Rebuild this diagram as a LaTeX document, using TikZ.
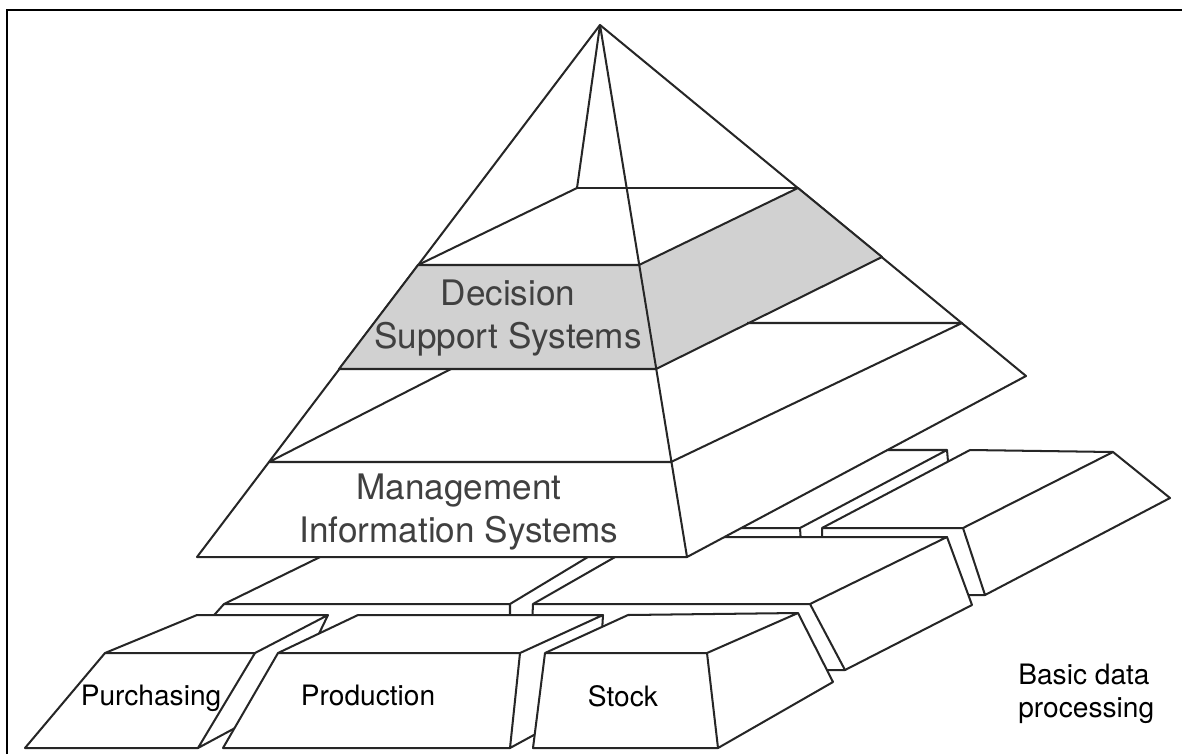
\documentclass[tikz,border=0pt]{standalone}
\usepackage{fontspec}
\setmainfont{TeX Gyre Heros}

\begin{document}
\begin{tikzpicture}[x=0.02cm,y=-0.02cm]
\tikzset{
myline/.style={draw=black!85, line width=1.15pt, line join=round},
myslab/.style={myline, fill=white},
myshade/.style={myline, fill=black!18},
myframe/.style={draw=black, line width=1.6pt},
mylabel/.style={text=black!75, inner sep=0pt, align=center, font=\fontsize{20}{24.5}\selectfont},
mytext/.style={text=black, inner sep=0pt, font=\fontsize{16}{18.5}\selectfont},
}
\useasboundingbox (0,0) rectangle (1182,754);
\draw[myframe] (7,754) -- (7,10) -- (1182,10);

\filldraw[myslab] (700,528) -- (800,528) -- (803,575) -- (700,575) -- cycle
  (700,528) -- (850,450) -- (947,450) -- (800,528) -- cycle
  (800,528) -- (947,450) -- (950,485) -- (803,575) -- cycle;
\filldraw[myslab] (822,528) -- (963,528) -- (985,595) -- (822,595) -- cycle
  (822,528) -- (970,450) -- (1113,452) -- (963,528) -- cycle
  (963,528) -- (1113,452) -- (1170,498) -- (985,595) -- cycle;
\filldraw[myslab] (224,604) -- (510,604) -- (510,650) -- (183,650) -- cycle
  (224,604) -- (361,537) -- (621,537) -- (510,604) -- cycle
  (510,604) -- (621,537) -- (621,583) -- (510,650) -- cycle;
\filldraw[myslab] (533,604) -- (810,604) -- (845,670) -- (530,670) -- cycle
  (533,604) -- (650,537) -- (947,537) -- (810,604) -- cycle
  (810,604) -- (947,537) -- (972,605) -- (845,670) -- cycle;

\coordinate (apex) at (600,25);
\coordinate (left) at (197,557);
\coordinate (front) at (687,557);
\coordinate (right) at (1026,376);
\coordinate (back) at (577,188);
\filldraw[myslab] (apex) -- (left) -- (front) -- (right) -- cycle;
\filldraw[myshade] (418,265) -- (639,265) -- (798,188) -- (882,257) -- (656,369) -- (339,369) -- cycle;
\draw[myline] (apex) -- (front);
\draw[myline] (apex) -- (back) -- (418,265);
\draw[myline] (back) -- (798,188);
\draw[myline] (451,369) -- (269,462) -- (671,462) -- (962,323) -- (747,323);

\filldraw[myslab] (105,653) -- (255,653) -- (198,748) -- (25,748) -- cycle
  (105,653) -- (197,615) -- (328,615) -- (255,653) -- cycle
  (255,653) -- (328,615) -- (287,700) -- (198,748) -- cycle;
\filldraw[myslab] (278,653) -- (520,653) -- (510,748) -- (223,748) -- cycle
  (278,653) -- (358,615) -- (603,615) -- (520,653) -- cycle
  (520,653) -- (603,615) -- (598,700) -- (510,748) -- cycle;
\filldraw[myslab] (545,653) -- (707,653) -- (718,748) -- (533,748) -- cycle
  (545,653) -- (628,615) -- (798,613) -- (707,653) -- cycle
  (707,653) -- (798,613) -- (833,682) -- (718,748) -- cycle;

\node[mylabel] (dss) at (508,318) {Decision\\Support Systems};
\node[mylabel] (mis) at (459,512) {Management\\Information Systems};
\node[mytext, anchor=base] (purchasing) at (151,705) {Purchasing};
\node[mytext, anchor=base] (production) at (368,705) {Production};
\node[mytext, anchor=base] (stock) at (623,706) {Stock};
\node[mytext, align=left, anchor=west] (basic) at (1018,694) {Basic data\\processing};
\end{tikzpicture}
\end{document}
